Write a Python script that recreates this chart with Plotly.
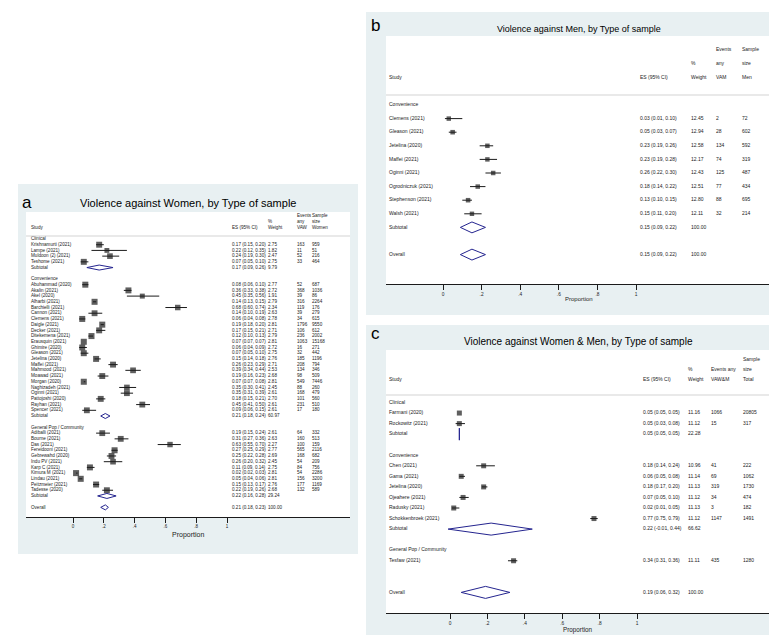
import plotly.graph_objects as go

W, H = 777, 635
FONT = "Liberation Sans, Arial, sans-serif"
INK = "#1b1b1b"
NAVY = "#24248f"
PANEL_BG = "#e8f0f2"
RULE = "#c8c8c8"

TICKS = [0, 0.2, 0.4, 0.6, 0.8, 1]
TICK_TEXT = ["0", ".2", ".4", ".6", ".8", "1"]

# ---------------- a) Violence against Women ----------------
A_TITLE = "Violence against Women, by Type of sample"
A_GROUPS = ["Clinical", "Convenience", "General Pop / Community"]
A_STUDY = ["Krishnamurti (2021)", "Lampe (2021)", "Muldoon (2) (2021)", "Teshome (2021)",
           "Abuhammad (2020)", "Akalin (2021)", "Akel (2020)", "Alharbi (2021)", "Barchielli (2021)",
           "Cannon (2021)", "Clemens (2021)", "Daigle (2021)", "Decker (2021)", "Ditekemena (2021)",
           "Erausquin (2021)", "Ghimire (2020)", "Gleason (2021)", "Jetelina (2020)", "Maffei (2021)",
           "Mahmood (2021)", "Moawad (2021)", "Morgan (2020)", "Naghizadeh (2021)", "Oginni (2021)",
           "Pattojoshi (2020)", "Rayhan (2021)", "Spencer (2021)",
           "Adiballi (2021)", "Bourne (2021)", "Das (2021)", "Fereidooni (2021)", "Gebrewahd (2020)",
           "Indu PV (2021)", "Karp C (2021)", "Kimura M (2021)", "Lindau (2021)", "Peitzmeier (2021)",
           "Tadesse (2020)"]
A_GROUP_OF = [0, 0, 0, 0,
              1, 1, 1, 1, 1, 1, 1, 1, 1, 1, 1, 1, 1, 1, 1, 1, 1, 1, 1, 1, 1, 1, 1,
              2, 2, 2, 2, 2, 2, 2, 2, 2, 2, 2]
A_ES = [0.17, 0.22, 0.24, 0.07,
        0.08, 0.36, 0.45, 0.14, 0.68, 0.14, 0.06, 0.19, 0.17, 0.12, 0.07, 0.06, 0.07, 0.15, 0.26,
        0.39, 0.19, 0.07, 0.35, 0.35, 0.18, 0.45, 0.09,
        0.19, 0.31, 0.63, 0.27, 0.25, 0.26, 0.11, 0.02, 0.05, 0.15, 0.22]
A_LO = [0.15, 0.12, 0.19, 0.05,
        0.06, 0.33, 0.35, 0.13, 0.60, 0.10, 0.04, 0.18, 0.15, 0.10, 0.07, 0.04, 0.05, 0.14, 0.23,
        0.34, 0.16, 0.07, 0.30, 0.31, 0.15, 0.41, 0.06,
        0.15, 0.27, 0.55, 0.25, 0.22, 0.20, 0.09, 0.02, 0.04, 0.13, 0.19]
A_HI = [0.20, 0.35, 0.30, 0.10,
        0.10, 0.38, 0.56, 0.15, 0.74, 0.19, 0.08, 0.20, 0.21, 0.13, 0.07, 0.09, 0.10, 0.18, 0.29,
        0.44, 0.23, 0.08, 0.41, 0.39, 0.21, 0.50, 0.15,
        0.24, 0.36, 0.70, 0.29, 0.28, 0.32, 0.14, 0.03, 0.06, 0.17, 0.26]
A_WEIGHT = [2.75, 1.82, 2.47, 2.75,
            2.77, 2.72, 1.91, 2.79, 2.34, 2.63, 2.78, 2.81, 2.71, 2.79, 2.81, 2.72, 2.75, 2.76, 2.71,
            2.53, 2.68, 2.81, 2.45, 2.61, 2.70, 2.61, 2.61,
            2.61, 2.63, 2.27, 2.77, 2.69, 2.45, 2.75, 2.81, 2.81, 2.76, 2.68]
A_EVENTS = [163, 11, 52, 33,
            52, 368, 39, 316, 119, 39, 34, 1796, 106, 236, 1063, 16, 32, 185, 208,
            134, 98, 549, 88, 168, 101, 231, 17,
            64, 160, 100, 565, 168, 54, 84, 54, 156, 177, 132]
A_SIZE = [959, 51, 216, 464,
          687, 1036, 86, 2264, 176, 279, 615, 9550, 612, 2002, 15168, 271, 442, 1196, 794,
          346, 509, 7446, 260, 479, 560, 510, 180,
          332, 513, 159, 2116, 682, 209, 756, 2286, 3200, 1169, 589]
A_SUB_ES = [0.17, 0.21, 0.22]
A_SUB_LO = [0.09, 0.18, 0.16]
A_SUB_HI = [0.26, 0.24, 0.28]
A_SUB_W = [9.79, 60.97, 29.24]
A_OVERALL = [0.21, 0.18, 0.23, 100.00]
A_HEAD = [["", "", "", "Events", "Sample"],
          ["", "", "%", "any", "size"],
          ["Study", "ES (95% CI)", "Weight", "VAW", "Women"]]

# ---------------- b) Violence against Men ----------------
B_TITLE = "Violence against Men, by Type of sample"
B_GROUPS = ["Convenience"]
B_STUDY = ["Clemens (2021)", "Gleason (2021)", "Jetelina (2020)", "Maffei (2021)", "Oginni (2021)",
           "Ogrodniczuk (2021)", "Stephenson (2021)", "Walsh (2021)"]
B_GROUP_OF = [0, 0, 0, 0, 0, 0, 0, 0]
B_ES = [0.03, 0.05, 0.23, 0.23, 0.26, 0.18, 0.13, 0.15]
B_LO = [0.01, 0.03, 0.19, 0.19, 0.22, 0.14, 0.10, 0.11]
B_HI = [0.10, 0.07, 0.26, 0.28, 0.30, 0.22, 0.15, 0.20]
B_WEIGHT = [12.45, 12.94, 12.58, 12.17, 12.43, 12.51, 12.80, 12.11]
B_EVENTS = [2, 28, 134, 74, 125, 77, 88, 32]
B_SIZE = [72, 602, 592, 319, 487, 434, 695, 214]
B_SUB_ES = [0.15]
B_SUB_LO = [0.09]
B_SUB_HI = [0.22]
B_SUB_W = [100.00]
B_OVERALL = [0.15, 0.09, 0.22, 100.00]
B_HEAD = [["", "", "", "Events", "Sample"],
          ["", "", "%", "any", "size"],
          ["Study", "ES (95% CI)", "Weight", "VAM", "Men"]]

# ---------------- c) Violence against Women & Men ----------------
C_TITLE = "Violence against Women & Men, by Type of sample"
C_GROUPS = ["Clinical", "Convenience", "General Pop / Community"]
C_STUDY = ["Farmani (2020)", "Rockowitz (2021)",
           "Chen (2021)", "Gama (2021)", "Jetelina (2020)", "Ojeahere (2021)", "Radusky (2021)",
           "Schokkenbroek (2021)",
           "Tesfaw (2021)"]
C_GROUP_OF = [0, 0, 1, 1, 1, 1, 1, 1, 2]
C_ES = [0.05, 0.05, 0.18, 0.06, 0.18, 0.07, 0.02, 0.77, 0.34]
C_LO = [0.05, 0.03, 0.14, 0.05, 0.17, 0.05, 0.01, 0.75, 0.31]
C_HI = [0.05, 0.08, 0.24, 0.08, 0.20, 0.10, 0.05, 0.79, 0.36]
C_WEIGHT = [11.16, 11.12, 10.96, 11.14, 11.13, 11.12, 11.13, 11.12, 11.11]
C_EVENTS = [1066, 15, 41, 69, 319, 34, 3, 1147, 435]
C_SIZE = [20805, 317, 222, 1062, 1730, 474, 182, 1491, 1280]
C_SUB_ES = [0.05, 0.22, None]
C_SUB_LO = [0.05, -0.01, None]
C_SUB_HI = [0.05, 0.44, None]
C_SUB_W = [22.28, 66.62, None]
C_OVERALL = [0.19, 0.06, 0.32, 100.00]
C_HEAD = [["", "", "", "", "Sample"],
          ["", "", "%", "Events any", "size"],
          ["Study", "ES (95% CI)", "Weight", "VAW&M", "Total"]]

# geometry of each panel in page pixels (bg box, white plot box, x=0 / x=1 pixel, rows)
GEOM = {
    "a": dict(bg=(10, 176, 350, 546), plot=(18, 204, 342, 509), x0=65, x1=219,
              row0=231, rowh=5.71, head=(208, 214, 220), sep=228, cols=(23, 224, 260, 289, 304),
              font=4.6, tick_font=4.5, title_font=11, title_y=195, label=(12, 194),
              prop_y=527, prop_font=7, box=3.6, dh=0.44),
    "b": dict(bg=(358, 4, 775, 307), plot=(378, 28, 763, 276), x0=435, x1=628,
              row0=97, rowh=13.6, head=(42, 56, 70), sep=87, cols=(381, 632, 683, 708, 734),
              font=5, tick_font=4.8, title_font=9, title_y=21, label=(361, 17),
              prop_y=291, prop_font=6, box=1.27, dh=0.4),
    "c": dict(bg=(358, 317, 775, 633), plot=(378, 342, 762, 605), x0=442, x1=629,
              row0=394.5, rowh=10.55, head=(352, 362, 372), sep=387, cols=(381, 635, 680, 703, 735),
              font=5, tick_font=4.8, title_font=10, title_y=333, label=(361, 325),
              prop_y=622, prop_font=6.3, box=1.5, dh=0.57),
}


def layout_rows(groups, group_of):
    study_rows, head_rows, sub_rows = [], [], []
    r = 0
    for g in range(len(groups)):
        head_rows.append(r)
        r += 1
        for gi in group_of:
            if gi == g:
                study_rows.append(r)
                r += 1
        sub_rows.append(r)
        r += 2
    return study_rows, head_rows, sub_rows, r


def text_col(fig, x, rows, texts, size, xa, ya):
    fig.add_trace(go.Scatter(
        x=[x] * len(rows), y=rows, text=texts, mode="text",
        textposition="middle right",
        textfont=dict(size=size, color=INK, family=FONT),
        xaxis=xa, yaxis=ya, cliponaxis=False, hoverinfo="skip"))


def add_panel(fig, k, tag, title, groups, group_of, study, es, lo, hi, weight, events, size,
              sub_es, sub_lo, sub_hi, sub_w, overall, head):
    g = GEOM[tag]
    xa, ya = ("x", "y") if k == 1 else (f"x{k}", f"y{k}")
    L, T, R, B = g["plot"]
    to_x = lambda p: (p - g["x0"]) / (g["x1"] - g["x0"])
    to_row = lambda p: (p - g["row0"]) / g["rowh"]

    study_rows, head_rows, sub_rows, overall_row = layout_rows(groups, group_of)

    # confidence intervals
    cx, cy = [], []
    for l, h, r in zip(lo, hi, study_rows):
        cx += [l, h, None]
        cy += [r, r, None]
    fig.add_trace(go.Scatter(x=cx, y=cy, mode="lines", line=dict(color=INK, width=1),
                             xaxis=xa, yaxis=ya, hoverinfo="skip"))

    # weighted boxes
    fig.add_trace(go.Scatter(
        x=es, y=study_rows, mode="markers",
        marker=dict(symbol="square", color=INK, size=[g["box"] * w ** 0.5 for w in weight],
                    line=dict(width=0)),
        xaxis=xa, yaxis=ya, hoverinfo="skip"))

    # pooled diamonds
    pooled = [(e, l, h, w, r) for e, l, h, w, r in zip(sub_es, sub_lo, sub_hi, sub_w, sub_rows)
              if e is not None]
    pooled.append((overall[0], overall[1], overall[2], overall[3], overall_row))
    dx, dy = [], []
    dh = g["dh"]
    for e, l, h, w, r in pooled:
        dx += [l, e, h, e, l, None]
        dy += [r, r - dh, r, r + dh, r, None]
    fig.add_trace(go.Scatter(x=dx, y=dy, mode="lines", line=dict(color=NAVY, width=1),
                             xaxis=xa, yaxis=ya, hoverinfo="skip"))

    # text columns
    cs, ce, cw, cv, cn = [to_x(c) for c in g["cols"]]
    labels = groups + study + ["Subtotal" for p in pooled[:-1]] + ["Overall"]
    label_rows = head_rows + study_rows + [p[4] for p in pooled]
    text_col(fig, cs, label_rows, labels, g["font"], xa, ya)

    es_rows = study_rows + [p[4] for p in pooled]
    es_txt = [f"{e:.2f} ({l:.2f}, {h:.2f})" for e, l, h in zip(es, lo, hi)]
    es_txt += [f"{p[0]:.2f} ({p[1]:.2f}, {p[2]:.2f})" for p in pooled]
    text_col(fig, ce, es_rows, es_txt, g["font"], xa, ya)
    w_txt = [f"{w:.2f}" for w in weight] + [f"{p[3]:.2f}" for p in pooled]
    text_col(fig, cw, es_rows, w_txt, g["font"], xa, ya)
    text_col(fig, cv, study_rows, [str(v) for v in events], g["font"], xa, ya)
    text_col(fig, cn, study_rows, [str(v) for v in size], g["font"], xa, ya)

    # column headers
    for line, hy in zip(head, g["head"]):
        for txt, cx_ in zip(line, (cs, ce, cw, cv, cn)):
            if txt:
                text_col(fig, cx_, [to_row(hy)], [txt], g["font"], xa, ya)

    sfx = "" if k == 1 else str(k)
    fig.update_layout(**{
        f"xaxis{sfx}": dict(
            domain=[L / W, R / W], range=[to_x(L), to_x(R)], anchor=ya,
            tickvals=TICKS, ticktext=TICK_TEXT, ticks="outside", ticklen=5, tickwidth=1,
            tickcolor=INK, showline=True, linecolor=INK, linewidth=1,
            showgrid=False, zeroline=False,
            tickfont=dict(size=g["tick_font"], color=INK, family=FONT)),
        f"yaxis{sfx}": dict(
            domain=[1 - B / H, 1 - T / H], range=[to_row(B), to_row(T)], anchor=xa,
            visible=False),
    })

    bx0, by0, bx1, by1 = g["bg"]
    fig.add_shape(type="rect", xref="paper", yref="paper", layer="below",
                  x0=bx0 / W, x1=bx1 / W, y0=1 - by1 / H, y1=1 - by0 / H,
                  fillcolor=PANEL_BG, line=dict(width=0))
    fig.add_shape(type="rect", xref="paper", yref="paper", layer="below",
                  x0=L / W, x1=R / W, y0=1 - B / H, y1=1 - T / H,
                  fillcolor="white", line=dict(width=0))
    fig.add_shape(type="line", xref=f"{xa} domain", yref=ya, x0=0, x1=1,
                  y0=to_row(g["sep"]), y1=to_row(g["sep"]),
                  line=dict(color=RULE, width=0.8))

    fig.add_annotation(text=title, xref="paper", yref="paper", x=(L + R) / 2 / W,
                       y=1 - g["title_y"] / H, showarrow=False, xanchor="center", yanchor="middle",
                       font=dict(size=g["title_font"], color="black", family=FONT))
    fig.add_annotation(text=tag, xref="paper", yref="paper", x=g["label"][0] / W,
                       y=1 - g["label"][1] / H, showarrow=False, xanchor="left", yanchor="middle",
                       font=dict(size=17, color="black", family=FONT))
    fig.add_annotation(text="Proportion", xref=f"{xa} domain", yref="paper", x=0.5,
                       y=1 - g["prop_y"] / H, showarrow=False, xanchor="center", yanchor="middle",
                       font=dict(size=g["prop_font"], color=INK, family=FONT))


fig = go.Figure()
add_panel(fig, 1, "a", A_TITLE, A_GROUPS, A_GROUP_OF, A_STUDY, A_ES, A_LO, A_HI, A_WEIGHT,
          A_EVENTS, A_SIZE, A_SUB_ES, A_SUB_LO, A_SUB_HI, A_SUB_W, A_OVERALL, A_HEAD)
add_panel(fig, 2, "b", B_TITLE, B_GROUPS, B_GROUP_OF, B_STUDY, B_ES, B_LO, B_HI, B_WEIGHT,
          B_EVENTS, B_SIZE, B_SUB_ES, B_SUB_LO, B_SUB_HI, B_SUB_W, B_OVERALL, B_HEAD)
add_panel(fig, 3, "c", C_TITLE, C_GROUPS, C_GROUP_OF, C_STUDY, C_ES, C_LO, C_HI, C_WEIGHT,
          C_EVENTS, C_SIZE, C_SUB_ES, C_SUB_LO, C_SUB_HI, C_SUB_W, C_OVERALL, C_HEAD)

fig.update_layout(
    width=W, height=H, margin=dict(l=0, r=0, t=0, b=0),
    paper_bgcolor="white", plot_bgcolor="rgba(0,0,0,0)",
    showlegend=False, font=dict(family=FONT, color=INK),
)
fig.write_html("out.html")
